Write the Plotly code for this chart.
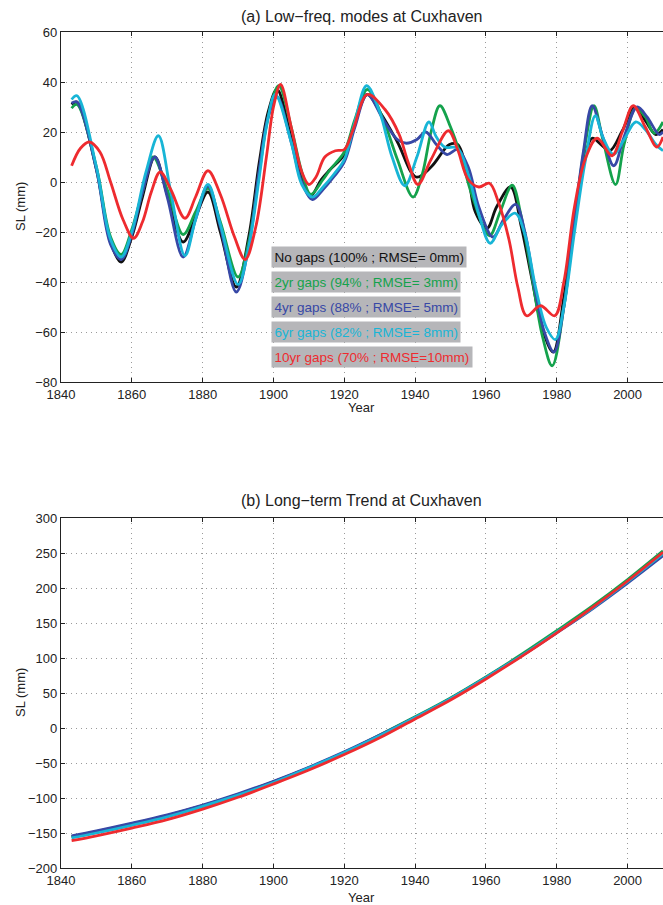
import plotly.graph_objects as go

# ---------------- Panel (a): low-frequency modes (mm) ----------------
black_yr = [1843, 1844.5, 1850, 1854, 1857, 1860, 1863, 1866.5, 1870, 1874.5, 1878, 1881.5, 1885,
            1889.5, 1893, 1896, 1898.5, 1901, 1905, 1908, 1910.5, 1913.5, 1916, 1920, 1923, 1926.5,
            1930.5, 1935, 1940.3, 1944.5, 1949.7, 1952, 1955, 1957, 1960.3, 1963, 1967, 1970, 1973,
            1976, 1979, 1982, 1985, 1987.5, 1990, 1992.5, 1995, 1998.5, 2002, 2005, 2008, 2010]
black_sl = [31, 32, 5, -24, -32, -22, -6, 10, -5, -24, -14, -4, -20,
            -42, -22, 8, 28, 37, 18, 2, -5.5, 1, 5, 11, 24, 35,
            27, 16, 2, 6, 15, 15, 2, -12, -18.5, -10, -2, -18, -39,
            -59, -68, -46, -15, 7, 17.5, 15, 12.5, 20.5, 30, 24.5, 19, 21]

green_yr = [1843, 1844.5, 1850, 1854, 1857, 1860, 1863, 1866, 1870, 1874.5, 1878, 1881.5, 1885,
            1890, 1893, 1896, 1898.5, 1901.5, 1905, 1908, 1910.5, 1914, 1916, 1920, 1923, 1926.5,
            1931, 1935, 1939.4, 1942, 1944.5, 1947, 1950, 1953, 1956, 1961, 1964, 1967.4, 1970,
            1973, 1976, 1978.7, 1982, 1985, 1988, 1990.5, 1993, 1996.6, 1999, 2002.3, 2005, 2007.5,
            2010]
green_sl = [29.5, 31, 6, -22, -29, -19, -4, 10, -3, -21, -12, -2.5, -16,
            -38, -24, 4, 26, 38.5, 22, 4, -5, 1, 5, 12, 25, 37,
            25, 9, -6, 3, 20, 30.5, 22, 10, -5, -21.5, -12, -1.3, -14,
            -38, -62, -73.5, -50, -15, 15, 30.5, 17, -1, 15, 29.5, 26, 19.5,
            24]

blue_yr = [1843, 1844.5, 1850, 1854, 1857, 1860, 1863, 1866.5, 1870, 1874.5, 1878, 1881.5, 1885,
           1889.5, 1893, 1896, 1898.5, 1901, 1905, 1908, 1911, 1914, 1917, 1920, 1923, 1926.5,
           1931, 1935, 1937.5, 1940.5, 1943, 1946, 1949, 1952, 1955, 1958, 1962, 1965, 1968.4,
           1971, 1974, 1976.5, 1979.2, 1982, 1985, 1987.5, 1990, 1993, 1996.1, 1999, 2002.7, 2005.5,
           2008.9, 2010]
blue_sl = [31.5, 32, 5, -25, -31, -21, -4, 10, -6, -30, -15, -1.5, -18,
           -44, -26, 5, 26, 34, 16, 0, -7, -3, 2, 8, 22, 35,
           25, 17, 15.5, 17, 20, 15, 11, 13, 6, -10, -22, -15, -9,
           -20, -44, -60, -68, -50, -15, 12, 30.5, 18, 6.5, 18, 30, 26,
           19, 20]

cyan_yr = [1843, 1844.5, 1850, 1854, 1857, 1860, 1864, 1867.5, 1871, 1875, 1878, 1881.5, 1885,
           1890, 1893, 1896, 1898, 1900.5, 1905, 1908, 1911, 1914, 1917, 1920, 1923, 1926.3,
           1930, 1933.5, 1937.1, 1940.5, 1943.9, 1946, 1948.3, 1952, 1955, 1958, 1961.2, 1964.5,
           1968.3, 1971, 1974, 1977, 1979.6, 1982, 1985, 1988, 1990.9, 1993, 1996, 1999, 2002.3,
           2005, 2008, 2010]
cyan_sl = [33, 34.5, 6, -23, -30, -20, 4, 18.5, -4, -29.5, -15, -1, -17,
           -41, -26, 2, 22, 35, 16, -1, -6, -2, 3, 9, 24, 38.5,
           28, 10, -1.5, 10, 24, 18, 14, 13.5, 3, -13, -24.5, -17,
           -12.5, -21, -42, -58, -63, -50, -20, 8, 26.5, 18, 11, 17, 24,
           21, 15, 12.5]

red_yr = [1843, 1845.5, 1848, 1851, 1854, 1857.5, 1860.5, 1863, 1865.5, 1868, 1871, 1875, 1878,
          1881.5, 1885, 1889, 1892, 1895, 1898, 1900, 1902, 1905, 1908, 1910, 1912, 1914.5,
          1917.5, 1920, 1922.5, 1926.5, 1931.5, 1935.5, 1938, 1940.8, 1944.5, 1949.4, 1952, 1955,
          1958, 1961, 1963.5, 1966.5, 1969, 1971.5, 1975.4, 1979.4, 1982, 1985, 1988, 1991.4,
          1995.6, 1998.5, 2001.6, 2005, 2008.3, 2010]
red_sl = [6.5, 13.5, 16, 12, 0, -15, -22.5, -16, -4, 4, -3, -14.5, -6,
          4.5, -5, -22, -31, -18, 10, 30, 39, 22, 4, -1, 2, 10,
          12.5, 13, 21, 35, 29, 19, 8, -1, 9, 20.5, 13, 1,
          -2, -0.5, -8, -23, -42, -53.5, -49.5, -53.5, -40, -10, 9, 17.5,
          10.5, 20, 30.5, 22, 14, 18]

# ---------------- Panel (b): long-term trend (mm) ----------------
trend_yr = [1843, 1850, 1860, 1870, 1880, 1890, 1900, 1910, 1920, 1930, 1940, 1950, 1960, 1970,
            1980, 1990, 2000, 2010]
trend_black = [-155, -148, -137, -125, -111, -95, -77, -57, -35, -11, 15, 42, 72, 103, 137, 172, 210, 249]
trend_green = [-156, -149, -138, -126, -112, -96, -78, -57, -35, -10, 16, 43, 73, 105, 139, 174, 212, 253]
trend_blue = [-154, -147, -136, -124, -110, -94, -76, -56, -34, -10, 15, 42, 72, 103, 136, 170, 207, 246]
trend_cyan = [-157, -150, -139, -127, -112, -96, -78, -57, -35, -11, 15, 42, 72, 103, 137, 171, 209, 249]
trend_red = [-161, -154, -143, -131, -116, -99, -80, -60, -38, -14, 13, 40, 70, 102, 136, 172, 210, 251]

labels = ["No gaps (100% ; RMSE= 0mm)", "2yr gaps (94% ; RMSE= 3mm)",
          "4yr gaps (88% ; RMSE= 5mm)", "6yr gaps (82% ; RMSE= 8mm)",
          "10yr gaps (70% ; RMSE=10mm)"]
colors = ["#111111", "#14a24c", "#3748a6", "#18b5d6", "#ee2b2f"]

x_ticks = [1840, 1860, 1880, 1900, 1920, 1940, 1960, 1980, 2000]

FONT = "Liberation Sans, Arial, Helvetica, sans-serif"
W, H = 663, 905

fig = go.Figure()

series_a = [(black_yr, black_sl), (green_yr, green_sl), (blue_yr, blue_sl),
            (cyan_yr, cyan_sl), (red_yr, red_sl)]
for (xs, ys), c, name in zip(series_a, colors, labels):
    fig.add_trace(go.Scatter(x=xs, y=ys, mode="lines", name=name, showlegend=False,
                             line=dict(color=c, width=2.8, shape="spline", smoothing=1.0),
                             xaxis="x", yaxis="y"))

series_b = [trend_black, trend_green, trend_blue, trend_cyan, trend_red]
for ys, c, name in zip(series_b, colors, labels):
    fig.add_trace(go.Scatter(x=trend_yr, y=ys, mode="lines", name=name, showlegend=False,
                             line=dict(color=c, width=2.8, shape="spline", smoothing=1.0),
                             xaxis="x2", yaxis="y2"))

x_left = 61 / W
top_a, bot_a = 1 - 32 / H, 1 - 382 / H
top_b, bot_b = 1 - 518 / H, 1 - 868 / H

axis_common = dict(showline=True, linecolor="#222222", linewidth=1.2, ticks="inside",
                   ticklen=4, tickcolor="#222222", showgrid=True, gridcolor="#9a9a9a",
                   griddash="1px,4px", gridwidth=1, zeroline=False,
                   tickfont=dict(family=FONT, size=13, color="#222222"))

fig.update_layout(
    width=W, height=H, margin=dict(l=0, r=0, t=0, b=0),
    paper_bgcolor="white", plot_bgcolor="white",
    font=dict(family=FONT, size=13, color="#222222"),
    xaxis=dict(domain=[x_left, 1], range=[1840, 2010], tickvals=x_ticks, mirror="ticks",
               anchor="y", automargin=False, **axis_common),
    yaxis=dict(domain=[bot_a, top_a], range=[-80, 60], dtick=20, anchor="x",
               automargin=False, **axis_common),
    xaxis2=dict(domain=[x_left, 1], range=[1840, 2010], tickvals=x_ticks, mirror="ticks",
                anchor="y2", automargin=False, **axis_common),
    yaxis2=dict(domain=[bot_b, top_b], range=[-200, 300], dtick=50, anchor="x2",
                automargin=False, **axis_common),
)

x_mid = (61 + 663) / 2 / W


def label(text, xc, yc, size=13, angle=0):
    return dict(text=text, x=xc, y=1 - yc / H, xref="paper", yref="paper",
                xanchor="center", yanchor="middle", showarrow=False, borderpad=0,
                textangle=angle, font=dict(size=size))


ann = [
    label("(a) Low\u2212freq. modes at Cuxhaven", x_mid, 16.5, size=16),
    label("(b) Long\u2212term Trend at Cuxhaven", x_mid, 500, size=16),
    label("SL (mm)", 20 / W, (32 + 382) / 2, angle=-90),
    label("SL (mm)", 20 / W, (518 + 868) / 2, angle=-90),
    label("Year", x_mid, 407),
    label("Year", x_mid, 897),
]
# gray legend boxes with coloured text
box_tops = [246, 271, 296, 321, 346]
for lab, c, bt in zip(labels, colors, box_tops):
    ann.append(dict(text=lab, x=271 / W, y=1 - bt / H, xref="paper", yref="paper",
                    xanchor="left", yanchor="top", showarrow=False, bgcolor="#b6b6b9",
                    borderpad=2.5, font=dict(size=13.5, color=c)))

fig.update_layout(annotations=ann)
fig.write_html("out.html")
